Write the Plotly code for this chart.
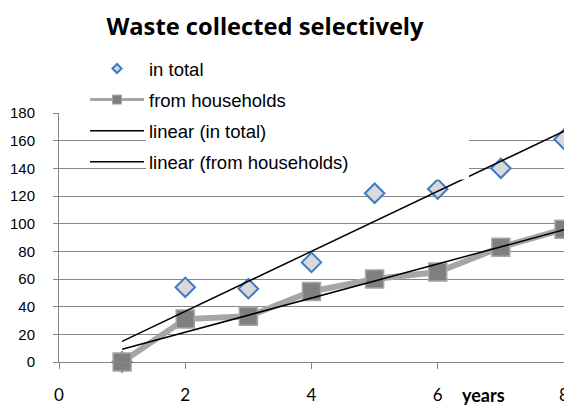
import numpy as np
import plotly.graph_objects as go

years = [1, 2, 3, 4, 5, 6, 7, 8]
in_total = [0, 54, 53, 72, 122, 125, 140, 161]
from_households = [0, 31, 33, 51, 60, 65, 83, 96]
x_ticks = [0, 2, 4, 6, 8]
y_ticks = [0, 20, 40, 60, 80, 100, 120, 140, 160, 180]

names = ["in total", "from households", "linear (in total)", "linear (from households)"]

BLUE = "#3F7AC2"
LIGHT = "#D9D9D9"
DARK = "#7F7F7F"
LINEGRAY = "#A6A6A6"
GRID = "#868686"

# the page body has an 8px margin, so the figure is placed at (8, 8) in the window
OFF = 8
W, H = 572 - OFF, 406 - OFF
PL, PR, PT, PB = 59 - OFF, 564 - OFF, 113 - OFF, 362 - OFF  # plot area in figure px
PW, PH = PR - PL, PB - PT

def px_x(wx):
    return (wx - OFF - PL) / PW

def px_y(wy):
    return (PB - (wy - OFF)) / PH

def trend(xs, ys):
    k, b = np.polyfit(xs, ys, 1)
    xx = [xs[0], xs[-1]]
    return xx, [k * v + b for v in xx]

fig = go.Figure()

fig.add_trace(go.Scatter(x=years, y=in_total, mode="markers",
                         marker=dict(symbol="diamond", size=15, color=LIGHT,
                                     line=dict(color=BLUE, width=2)),
                         showlegend=False, cliponaxis=False))
fig.add_trace(go.Scatter(x=years, y=from_households, mode="lines+markers",
                         line=dict(color=LINEGRAY, width=6),
                         marker=dict(symbol="square", size=18, color=DARK,
                                     line=dict(color=LINEGRAY, width=1.5)),
                         showlegend=False, cliponaxis=False))
tx, ty = trend(years, in_total)
fig.add_trace(go.Scatter(x=tx, y=ty, mode="lines", line=dict(color="black", width=1.5),
                         showlegend=False))
hx, hy = trend(years, from_households)
fig.add_trace(go.Scatter(x=hx, y=hy, mode="lines", line=dict(color="black", width=1.5),
                         showlegend=False))

fig.add_trace(go.Scatter(x=[None], y=[None], mode="markers", name=names[0], legendgroup="a",
                         marker=dict(symbol="diamond", size=7, color=LIGHT,
                                     line=dict(color=BLUE, width=2))))
fig.add_trace(go.Scatter(x=[None], y=[None], mode="lines+markers", name=names[1], legendgroup="b",
                         line=dict(color=LINEGRAY, width=3),
                         marker=dict(symbol="square", size=9, color=DARK,
                                     line=dict(color=LINEGRAY, width=1))))
fig.add_trace(go.Scatter(x=[None], y=[None], mode="lines", name=names[2], legendgroup="c",
                         line=dict(color="black", width=1.5)))
fig.add_trace(go.Scatter(x=[None], y=[None], mode="lines", name=names[3], legendgroup="d",
                         line=dict(color="black", width=1.5)))

fig.update_layout(
    width=W, height=H,
    margin=dict(l=PL, r=W - PR, t=PT, b=H - PB, autoexpand=False),
    paper_bgcolor="white", plot_bgcolor="white",
    title=dict(text="<b>Waste collected selectively</b>", x=(265 - OFF) / W, xanchor="center",
               y=1 - (27 - OFF) / H, yanchor="middle",
               font=dict(family="Open Sans", size=23.7, color="black")),
    legend=dict(x=px_x(85), xanchor="left", y=px_y(50), yanchor="top",
                bgcolor="rgba(0,0,0,0)", itemwidth=54, tracegroupgap=4,
                font=dict(family="Liberation Sans", size=18.5, color="black")),
    xaxis=dict(range=[0, 8], tickvals=x_ticks, ticktext=[str(v) for v in x_ticks],
               showgrid=False, zeroline=False, showline=True, linecolor=GRID, linewidth=1,
               ticks="outside", ticklen=6, tickcolor=GRID, ticklabelstandoff=12,
               tickfont=dict(family="Lato", size=17, color="black")),
    yaxis=dict(range=[0, 180], tickvals=y_ticks, showgrid=True, gridcolor=GRID, gridwidth=1,
               zeroline=False, showline=True, linecolor=GRID, linewidth=1,
               ticks="outside", ticklen=5, tickcolor=GRID, ticklabelstandoff=15,
               tickfont=dict(family="Liberation Sans", size=15, color="black")),
    shapes=[dict(type="rect", xref="paper", yref="paper", x0=px_x(146), x1=px_x(469),
                 y0=px_y(179.5), y1=1.01, fillcolor="white", line=dict(width=0), layer="above")],
    annotations=[dict(text="<b>years</b>", xref="paper", yref="paper",
                      x=px_x(483), y=px_y(395), xanchor="center", yanchor="middle",
                      showarrow=False, font=dict(family="Lato", size=18, color="black"))],
)

fig.write_html("out.html")
